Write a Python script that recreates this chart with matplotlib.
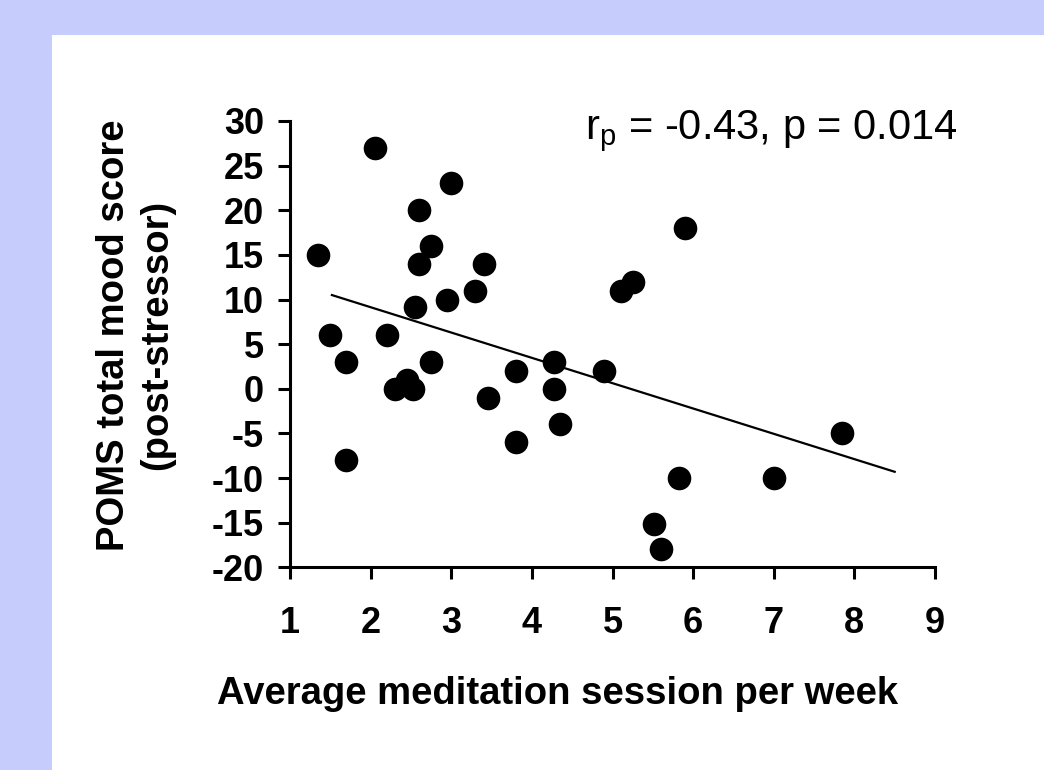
import matplotlib
matplotlib.use('Agg')
import matplotlib.pyplot as plt
from matplotlib.patches import Rectangle

plt.rcParams['font.family'] = ['Liberation Sans', 'DejaVu Sans']
plt.rcParams['mathtext.fontset'] = 'custom'
plt.rcParams['mathtext.rm'] = 'Liberation Sans'
plt.rcParams['axes.unicode_minus'] = False

# sessions per week vs POMS total mood score (post-stressor)
sessions = [2.05, 3.0, 2.6, 1.35, 2.75, 2.6, 3.4, 3.3, 2.95, 2.55, 1.5,
            2.2, 1.7, 2.75, 2.3, 2.45, 2.53, 3.45, 3.8, 4.27, 4.27, 4.35,
            3.8, 4.9, 1.7, 5.9, 5.25, 5.1, 7.85, 5.82, 7.0, 5.52, 5.6]
mood = [27, 23, 20, 15, 16, 14, 14, 11, 10, 9.2, 6,
        6, 3, 3, 0, 1, 0, -1, 2, 3, 0, -4,
        -6, 2, -8, 18, 12, 11, -5, -10, -10, -15.2, -17.9]

# regression line end points as drawn
fit_x = [1.52, 8.5]
fit_y = [10.5, -9.3]

xticks = [1, 2, 3, 4, 5, 6, 7, 8, 9]
yticks = [-20, -15, -10, -5, 0, 5, 10, 15, 20, 25, 30]

W, H = 1044, 770
fig = plt.figure(figsize=(W / 100, H / 100), dpi=100)
fig.patch.set_facecolor('#c6ccfc')
fig.add_artist(Rectangle((52 / W, 0), 1, 1 - 35 / H, transform=fig.transFigure,
                         facecolor='white', edgecolor='none', zorder=-1))

ax = fig.add_axes([290 / W, 1 - 567.3 / H, 645 / W, 446.3 / H])
ax.set_facecolor('none')

ax.plot(fit_x, fit_y, color='black', lw=1.6, zorder=2)
ax.plot(sessions, mood, 'o', color='black', markersize=17, mew=0, zorder=3,
        clip_on=False)

ax.set_xlim(1, 9)
ax.set_ylim(-20, 30)
ax.set_xticks(xticks)
ax.set_yticks(yticks)
ax.spines['top'].set_visible(False)
ax.spines['right'].set_visible(False)
for s in ['left', 'bottom']:
    ax.spines[s].set_linewidth(2.2)
ax.tick_params(axis='both', length=8.6, width=2.2, labelsize=26)
ax.tick_params(axis='x', pad=19)
ax.tick_params(axis='y', pad=10)
for lab in ax.get_xticklabels() + ax.get_yticklabels():
    lab.set_fontweight('bold')

ax.text(585 / W, 1 - 139 / H, r'r$_\mathregular{p}$ = -0.43, p = 0.014',
        transform=fig.transFigure, fontsize=30, ha='left', va='baseline')

fig.text(558 / W, 1 - 704 / H, 'Average meditation session per week',
         fontsize=27.5, fontweight='bold', ha='center', va='baseline')
fig.text(136 / W, 1 - 335 / H, 'POMS total mood score\n(post-stressor)',
         fontsize=27.5, fontweight='bold', ha='center', va='center',
         rotation=90, multialignment='center', linespacing=1.25)

fig.savefig('out.png', dpi=100, facecolor=fig.get_facecolor())
